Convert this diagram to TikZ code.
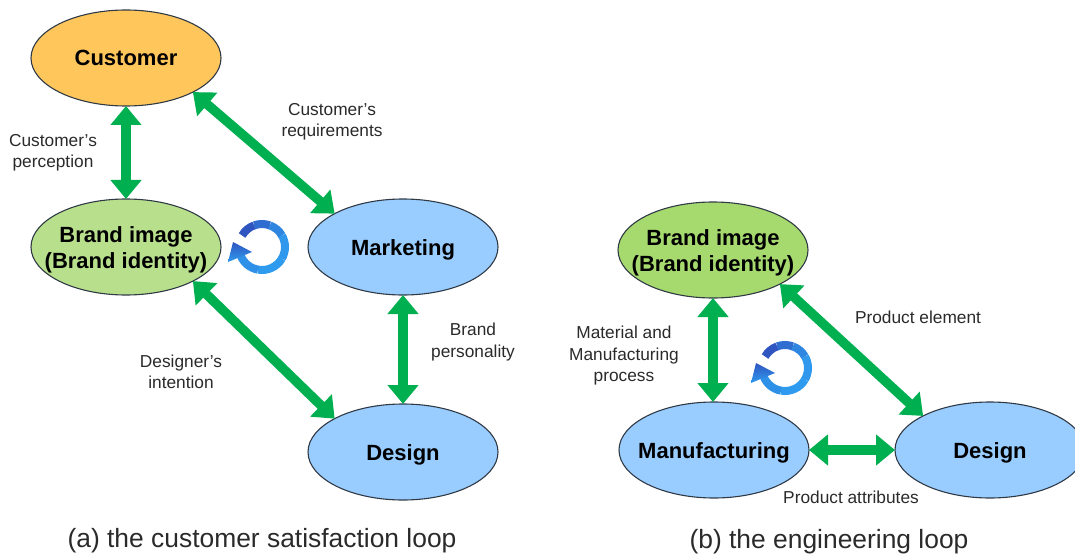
\documentclass[tikz,border=0pt]{standalone}
\usepackage{fontspec}
\setmainfont{Liberation Sans}
\usetikzlibrary{shapes.geometric,arrows.meta}
\definecolor{cOrange}{HTML}{FFC65C}
\definecolor{cLime}{HTML}{B8E08C}
\definecolor{cLimeB}{HTML}{A6D96E}
\definecolor{cBlue}{HTML}{99CCFF}
\definecolor{cGreen}{HTML}{00B050}
\definecolor{cEdge}{HTML}{2F3A45}
\definecolor{cText}{HTML}{2A2A2A}
\definecolor{cDark}{HTML}{2F55C0}
\definecolor{cLight}{HTML}{2F9BEE}
\newcommand{\zw}[1]{\makebox[0pt][c]{\raisebox{0pt}[16pt][0pt]{#1}}}
\tikzset{
  oval/.style={ellipse,draw=cEdge,line width=1.1pt,inner sep=0pt,outer sep=0pt,minimum width=190pt,minimum height=96pt,align=center,text=black,font=\fontsize{22}{26}\selectfont\bfseries},
  link/.style={draw=cGreen,line width=9.5pt,{Triangle[length=19pt,width=30pt]}-{Triangle[length=19pt,width=30pt]}},
  note/.style={text=cText,font=\fontsize{17.3}{21.5}\selectfont,align=center,inner sep=0pt},
  caption/.style={text=cText,font=\fontsize{26.4}{30}\selectfont,inner sep=0pt},
  loopicon/.pic={
    \foreach \a/\b/\m in {150/110/0,110/70/35,70/30/70,30/-30/95,-30/-100/100,-100/-158/85}{
      \draw[line width=8pt,color=cLight!\m!cDark,line cap=butt] (\a:23pt) arc[start angle=\a,end angle=\b,radius=23pt];
    }
    \shade[top color=cDark,bottom color=cLight] (-34pt,-15pt) -- (-29pt,5pt) -- (-10pt,-5pt) -- cycle;
  }
}
\begin{document}
\begin{tikzpicture}[x=1pt,y=-1pt]
\useasboundingbox (0,0) rectangle (1075,556);
\node[oval,fill=cOrange] (cust) at (126,58) {\zw{Customer}};
\node[oval,fill=cLime] (brandA) at (126,247) {\zw{Brand image}\\\zw{(Brand identity)}};
\node[oval,fill=cBlue] (mkt) at (403,247) {\zw{Marketing}};
\node[oval,fill=cBlue] (desA) at (403,452) {\zw{Design}};
\node[oval,fill=cLimeB] (brandB) at (713,250) {\zw{Brand image}\\\zw{(Brand identity)}};
\node[oval,fill=cBlue] (mfg) at (714,450) {\zw{Manufacturing}};
\node[oval,fill=cBlue] (desB) at (990,450) {\zw{Design}};

\draw[link] (cust) -- (brandA);
\draw[link] (cust.-27) -- (mkt.154);
\draw[link] (brandA.-27) -- (desA.154);
\draw[link] (mkt) -- (desA);
\draw[link] (brandB) -- (brandB |- mfg.north);
\draw[link] (brandB.-27) -- (desB.153);
\draw[link] (mfg) -- (desB);

\pic at (262,247) {loopicon};
\pic at (785,368) {loopicon};

\node[note] (n1) at (53,153) {Customer's\\perception};
\node[note] (n2) at (332,122) {Customer's\\requirements};
\node[note] (n3) at (181,372) {Designer's\\intention};
\node[note] (n4) at (473,342) {Brand\\personality};
\node[note] (n5) at (624,356) {Material and\\Manufacturing\\process};
\node[note] (n6) at (918,317) {Product element};
\node[note] (n7) at (851,497) {Product attributes};
\node[caption] (c1) at (262,541) {(a) the customer satisfaction loop};
\node[caption] (c2) at (829,542) {(b) the engineering loop};
\end{tikzpicture}
\end{document}
